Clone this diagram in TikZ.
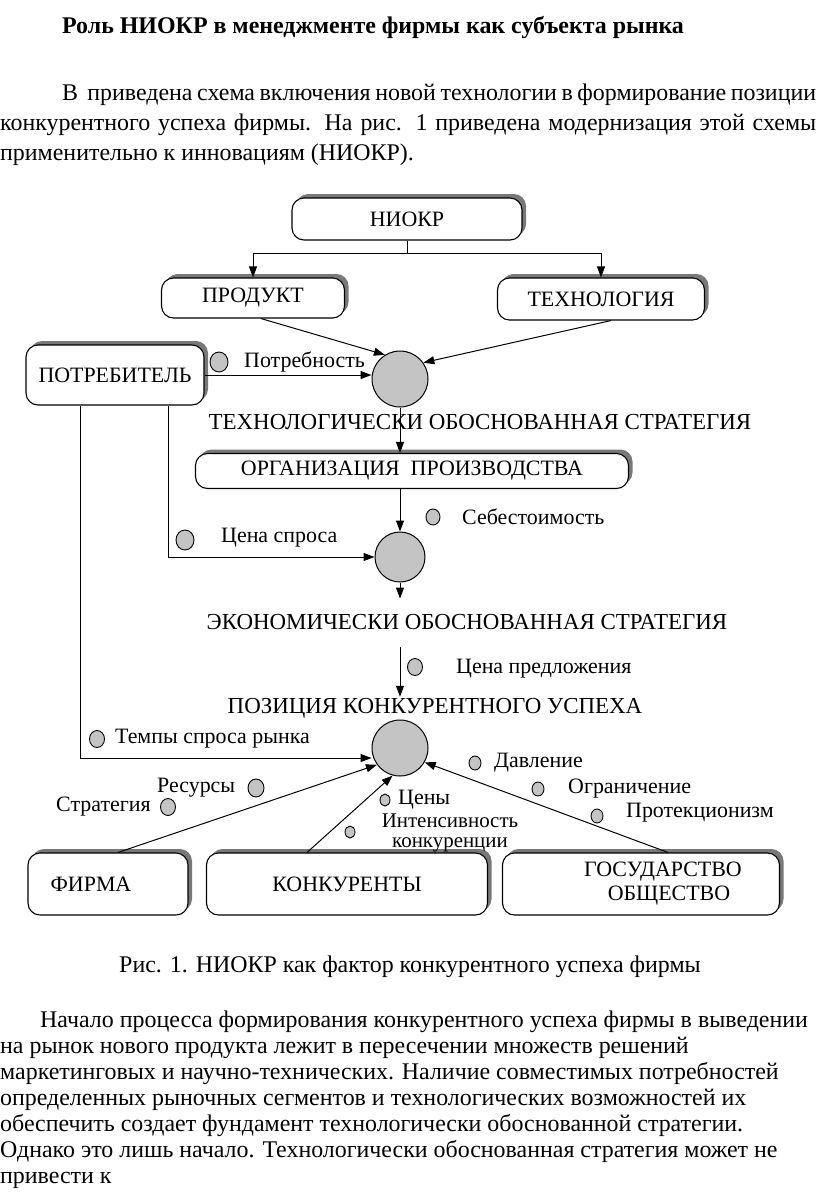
\documentclass[tikz,border=0pt]{standalone}
\usepackage{fontspec}
\setmainfont{Liberation Serif}
\usetikzlibrary{arrows.meta,shadows,shapes.geometric}
\definecolor{hubgray}{RGB}{196,196,196}
\definecolor{shadegray}{RGB}{120,120,120}
\newcommand{\factor}[5]{% name, dot position, dot size, label anchor, text
  \node[dot,minimum width=#3,minimum height=#3+2] (#1) at (#2) {};
  \node[lab] (#1-t) at (#4) {#5};}
\tikzset{
  box/.style={draw, rounded corners=12bp, line width=1.1bp, fill=white, inner sep=0pt,
    drop shadow={shadow xshift=4bp, shadow yshift=4bp, fill=shadegray, opacity=1},
    font=\fontsize{22}{24}\selectfont},
  hub/.style={circle, draw, fill=hubgray, line width=1bp, inner sep=0pt},
  dot/.style={ellipse, draw, fill=hubgray, line width=0.9bp, inner sep=0pt},
  link/.style={line width=1bp, -{Triangle[length=11bp,width=8bp]}},
  lab/.style={anchor=west, inner sep=1bp, font=\fontsize{22}{24}\selectfont},
  stage/.style={inner sep=1bp, font=\fontsize{23}{25}\selectfont},
  txt/.style={anchor=base west, inner sep=0pt, font=\fontsize{24}{28}\selectfont},
  btxt/.style={anchor=base west, inner sep=0pt, font=\fontsize{24}{26}\selectfont},
}
\begin{document}
\begin{tikzpicture}[x=1bp,y=-1bp]
\useasboundingbox (0,0) rectangle (816,1197);
% heading and opening text
\node[txt,font=\fontsize{24}{28}\selectfont\bfseries] (title) at (62,33) {Роль НИОКР в менеджменте фирмы как субъекта рынка};
\node[txt] (p1) at (62,100) {\makebox[754bp][s]{В\ \ приведена схема включения новой технологии в формирование позиции}};
\node[txt] (p2) at (0,130) {\makebox[816bp][s]{конкурентного успеха фирмы. На рис. 1 приведена модернизация этой схемы}};
\node[txt] (p3) at (0,160) {применительно к инновациям (НИОКР).};

% boxes
\node[box,minimum width=230bp,minimum height=42bp] (niokr) at (407,219) {НИОКР};
\node[box,minimum width=183bp,minimum height=40bp] (prod) at (253,298) {ПРОДУКТ};
\node[box,minimum width=207bp,minimum height=42bp] (tech) at (601,299) {ТЕХНОЛОГИЯ};
\node[box,minimum width=178bp,minimum height=60bp] (cons) at (115,375) {ПОТРЕБИТЕЛЬ};
\node[box,minimum width=433bp,minimum height=35bp] (org) at (412,471) {ОРГАНИЗАЦИЯ\ \ ПРОИЗВОДСТВА};
\node[box,minimum width=160bp,minimum height=62bp] (firm) at (108,884) {ФИРМА\hspace*{34bp}};
\node[box,minimum width=281bp,minimum height=62bp] (comp) at (347,884) {КОНКУРЕНТЫ};
\node[box,minimum width=277bp,minimum height=62bp,align=center] (state) at (641,884) {\hspace*{44bp}ГОСУДАРСТВО\\\hspace*{56bp}ОБЩЕСТВО};

% hubs and stages
\node[hub,minimum size=56bp] (c1) at (400,379) {};
\node[hub,minimum size=50bp] (c2) at (400,557) {};
\node[hub,minimum size=56bp] (c3) at (400,748) {};
\node[stage] (tstrat) at (480,422) {ТЕХНОЛОГИЧЕСКИ ОБОСНОВАННАЯ СТРАТЕГИЯ};
\node[stage] (estrat) at (467,622) {ЭКОНОМИЧЕСКИ ОБОСНОВАННАЯ СТРАТЕГИЯ};
\node[stage] (pos) at (435,708) {ПОЗИЦИЯ КОНКУРЕНТНОГО УСПЕХА};

% factors
\factor{need}{219,362}{18bp}{243,362}{Потребность}
\factor{cost}{433,517}{14bp}{461,517}{Себестоимость}
\factor{dprice}{185,540}{18bp}{220,538}{Цена спроса}
\factor{sprice}{415,667}{15bp}{455,669}{Цена предложения}
\factor{rate}{97,739}{15bp}{114,739}{Темпы спроса рынка}
\factor{res}{256,788}{16bp}{156,788}{Ресурсы}
\factor{strat}{168,807}{15bp}{55,807}{Стратегия}
\factor{press}{475,763}{12bp}{493,763}{Давление}
\factor{limit}{538,789}{12bp}{567,789}{Ограничение}
\factor{prot}{597,816}{12bp}{625,813}{Протекционизм}
\factor{price}{385,800}{10bp}{397,800}{Цены}
\node[dot,minimum width=10bp,minimum height=12bp] (intens) at (350,832) {};
\node[stage,align=center,inner sep=0pt,font=\fontsize{21}{20}\selectfont] (intens-t) at (450,833) {Интенсивность\\конкуренции};

% connectors
\draw[link] (niokr.south) -- ++(0,13) -| (prod.north);
\draw[link] (niokr.south) ++(0,13) -| (tech.north);
\draw[link] ([xshift=8bp]prod.south) -- (c1.122);
\draw[link] ([xshift=10bp]tech.south) -- (c1.35);
\draw[link] (cons.east) -- (cons.east -| c1.west);
\draw[link] (c1.south) -- (c1.south |- org.north);
\draw[link] (c2.north |- org.south) -- (c2.north);
\draw[link] ([xshift=53bp]cons.south) |- (c2.west);
\draw[link] (c2.south) -- ++(0,16);
\draw[link] ([yshift=-16bp]estrat.south -| c3.north) -- (pos.north -| c3.north);
\draw[link] ([xshift=-35bp]cons.south) |- ([yshift=-10bp]c3.west);
\draw[link] ([xshift=10bp]firm.north) -- (c3.216);
\draw[link] ([xshift=-40bp]comp.north) -- (c3.255);
\draw[link] ([xshift=27bp]state.north) -- (c3.330);

% caption and closing text
\node[txt,anchor=base] (cap) at (410,972) {Рис. 1. НИОКР как фактор конкурентного успеха фирмы};
\node[btxt] (q1) at (40,1027) {Начало процесса формирования конкурентного успеха фирмы в выведении};
\node[btxt] (q2) at (0,1053) {на рынок нового продукта лежит в пересечении множеств решений};
\node[btxt] (q3) at (0,1079) {маркетинговых и научно-технических. Наличие совместимых потребностей};
\node[btxt] (q4) at (0,1105) {определенных рыночных сегментов и технологических возможностей их};
\node[btxt] (q5) at (0,1131) {обеспечить создает фундамент технологически обоснованной стратегии.};
\node[btxt] (q6) at (0,1157) {Однако это лишь начало. Технологически обоснованная стратегия может не};
\node[btxt] (q7) at (0,1183) {привести к};
\end{tikzpicture}
\end{document}
